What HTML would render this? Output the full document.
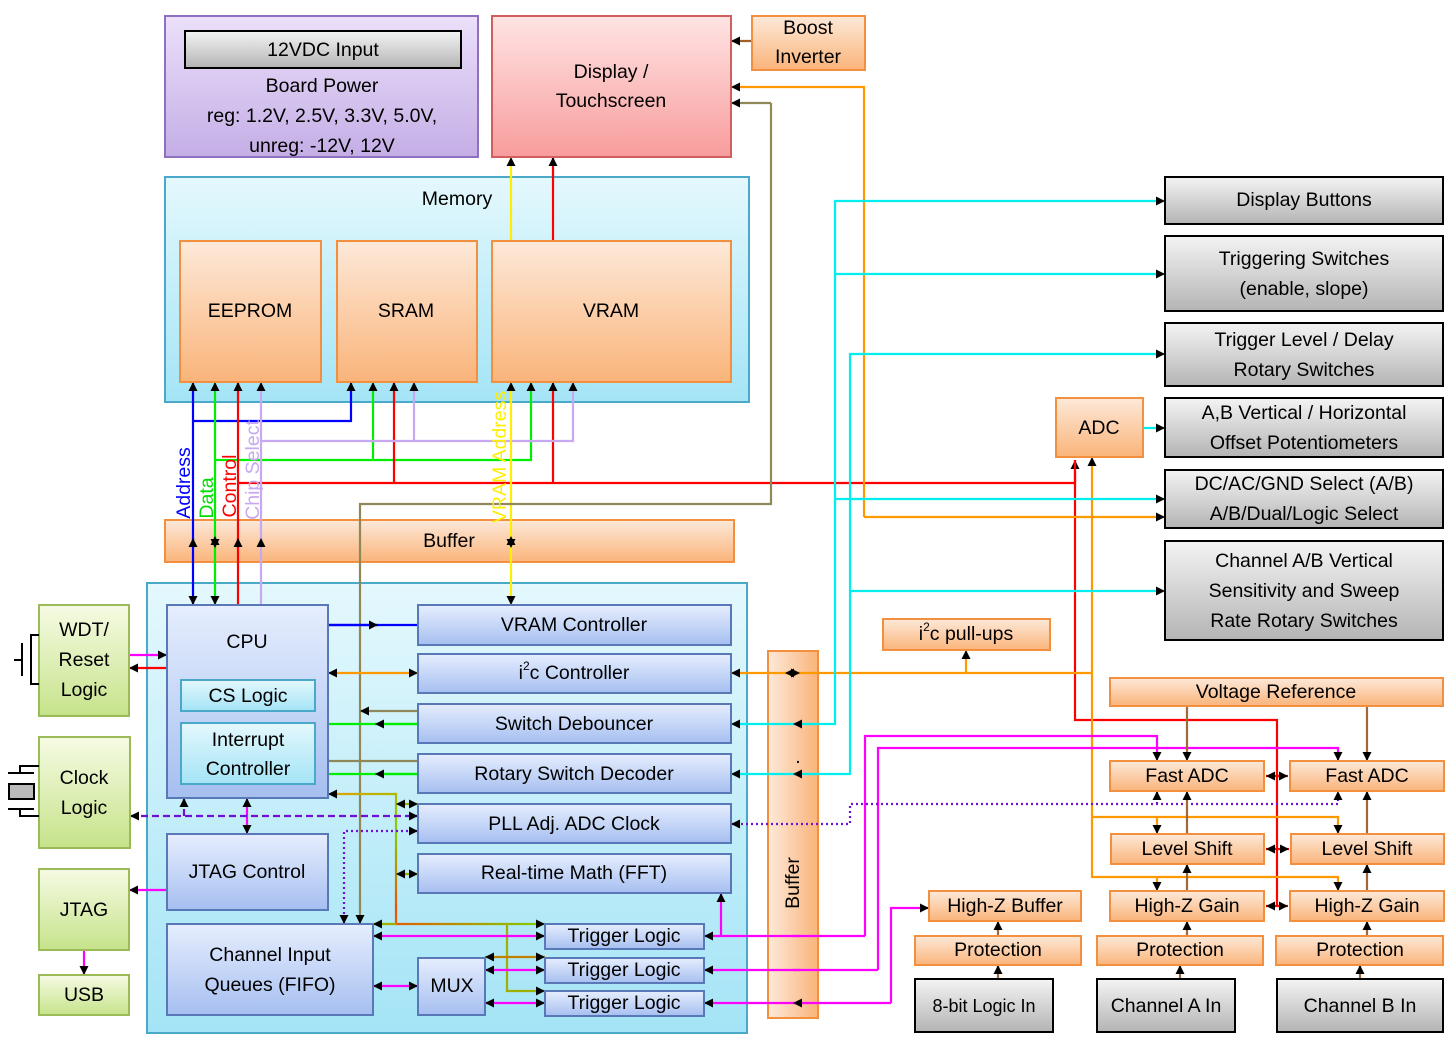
<!DOCTYPE html>
<html><head><meta charset="utf-8"><style>
html,body{margin:0;padding:0;background:#fff;}
svg{display:block;font-family:"Liberation Sans",sans-serif;}
text{font-size:19.5px;fill:#000;text-anchor:middle;dominant-baseline:central;}
</style></head><body>
<svg width="1452" height="1047" viewBox="0 0 1452 1047" xmlns="http://www.w3.org/2000/svg">
<defs>
<linearGradient id="gPur" x1="0" y1="0" x2="0" y2="1"><stop offset="0" stop-color="#ece0fa"/><stop offset="1" stop-color="#c4aee6"/></linearGradient>
<linearGradient id="gPink" x1="0" y1="0" x2="0" y2="1"><stop offset="0" stop-color="#ffe4e4"/><stop offset="1" stop-color="#f89c9c"/></linearGradient>
<linearGradient id="gOr" x1="0" y1="0" x2="0" y2="1"><stop offset="0" stop-color="#fde9d9"/><stop offset="1" stop-color="#fab47a"/></linearGradient>
<linearGradient id="gOrH" x1="0" y1="0" x2="1" y2="0"><stop offset="0" stop-color="#fde9d9"/><stop offset="1" stop-color="#fab47a"/></linearGradient>
<linearGradient id="gCy" x1="0" y1="0" x2="0" y2="1"><stop offset="0" stop-color="#e4f8fd"/><stop offset="1" stop-color="#a4e4f6"/></linearGradient>
<linearGradient id="gBl" x1="0" y1="0" x2="0" y2="1"><stop offset="0" stop-color="#e6eefe"/><stop offset="1" stop-color="#a6bff0"/></linearGradient>
<linearGradient id="gGr" x1="0" y1="0" x2="0" y2="1"><stop offset="0" stop-color="#f6fbe4"/><stop offset="1" stop-color="#c6e38a"/></linearGradient>
<linearGradient id="gGy" x1="0" y1="0" x2="0" y2="1"><stop offset="0" stop-color="#f4f4f4"/><stop offset="1" stop-color="#b4b4b4"/></linearGradient>
<linearGradient id="gMix" x1="0" y1="0" x2="1" y2="1"><stop offset="0" stop-color="#e0a000"/><stop offset="0.3" stop-color="#80d000"/><stop offset="0.6" stop-color="#f05000"/><stop offset="1" stop-color="#80d000"/></linearGradient>
<marker id="a" viewBox="0 0 10 10" refX="10" refY="5" markerWidth="9" markerHeight="9" markerUnits="userSpaceOnUse" orient="auto"><path d="M0,0 L10,5 L0,10z" fill="#000"/></marker>
<marker id="b" viewBox="0 0 10 10" refX="0" refY="5" markerWidth="9" markerHeight="9" markerUnits="userSpaceOnUse" orient="auto"><path d="M10,0 L0,5 L10,10z" fill="#000"/></marker>
</defs>

<rect x="165" y="177" width="584" height="225" fill="url(#gCy)" stroke="#4aa8c8" stroke-width="2"/>
<rect x="147" y="583" width="600" height="450" fill="url(#gCy)" stroke="#4aa8c8" stroke-width="2"/>
<g fill="url(#gOr)" stroke="#f39040" stroke-width="2">
<rect x="165" y="520" width="569" height="42"/>
<rect x="768" y="651" width="50" height="367" fill="url(#gOrH)"/>
</g>
<text x="449" y="541">Buffer</text>
<text x="793" y="883" transform="rotate(-90 793 883)">Buffer</text>
<text x="798" y="757" font-size="12">.</text>

<g fill="none" stroke-width="2.2">
<path d="M193,605 V382" stroke="#0000ff" marker-end="url(#a)" marker-start="url(#b)"/>
<path d="M193,421 H351 V382" stroke="#0000ff" marker-end="url(#a)"/>
<path d="M215,605 V382" stroke="#00ee00" marker-end="url(#a)" marker-start="url(#b)"/>
<path d="M215,460 H531 V382" stroke="#00ee00" marker-end="url(#a)"/>
<path d="M373,460 V382" stroke="#00ee00" marker-end="url(#a)"/>
<path d="M238,605 V382" stroke="#ff0000" marker-end="url(#a)"/>
<path d="M238,483 H1075 V460" stroke="#ff0000" marker-end="url(#a)"/>
<path d="M394,483 V382" stroke="#ff0000" marker-end="url(#a)"/>
<path d="M553,483 V382" stroke="#ff0000" marker-end="url(#a)"/>
<path d="M261,605 V382" stroke="#c8a8f0" marker-end="url(#a)"/>
<path d="M261,441 H573 V382" stroke="#c8a8f0" marker-end="url(#a)"/>
<path d="M414,441 V382" stroke="#c8a8f0" marker-end="url(#a)"/>
<path d="M511,605 V382" stroke="#ffee00" marker-end="url(#a)" marker-start="url(#b)"/>
<path d="M193,541 V535 M215,541 V535 M238,541 V535 M261,541 V535" stroke="none"/>
<path d="M511,241 V157" stroke="#ffee00" marker-end="url(#a)"/>
<path d="M553,241 V157" stroke="#ff0000" marker-end="url(#a)"/>
<path d="M1075,460 V720 H1277 V906" stroke="#ff0000"/>
<path d="M1266,776 H1288" stroke="#ff0000" marker-end="url(#a)" marker-start="url(#b)"/>
<path d="M1266,849 H1289" stroke="#ff0000" marker-end="url(#a)" marker-start="url(#b)"/>
<path d="M1266,906 H1288" stroke="#ff0000" marker-end="url(#a)" marker-start="url(#b)"/>
<path d="M771,103 H731" stroke="#908858" marker-end="url(#a)"/>
<path d="M771,103 V504 H360 V924" stroke="#908858" marker-end="url(#a)"/>
<path d="M360,711 H418" stroke="#908858" marker-start="url(#b)"/>
<path d="M418,761 H315" stroke="#908858" marker-end="url(#a)"/>
<path d="M752,41 H731" stroke="#a0602a" marker-end="url(#a)"/>
<path d="M864,517 V87 H731" stroke="#ff9900" marker-end="url(#a)"/>
<path d="M864,517 H1165" stroke="#ff9900" marker-end="url(#a)"/>
<path d="M328,673 H418" stroke="#ff9900" marker-end="url(#a)" marker-start="url(#b)"/>
<path d="M731,673 H1093" stroke="#ff9900" marker-start="url(#b)"/>
<path d="M785,673 H800" stroke="#ff9900" marker-end="url(#a)" marker-start="url(#b)"/>
<path d="M966,650 V673" stroke="#ff9900" marker-start="url(#b)"/>
<path d="M1092,457 V877 H1338 V891" stroke="#ff9900" marker-start="url(#b)" marker-end="url(#a)"/>
<path d="M1092,817 H1338 V834" stroke="#ff9900" marker-end="url(#a)"/>
<path d="M1157,817 V834" stroke="#ff9900" marker-end="url(#a)"/>
<path d="M1157,877 V891" stroke="#ff9900" marker-end="url(#a)"/>
<path d="M1165,201 H835 V724 H731" stroke="#00eeee" marker-start="url(#b)" marker-end="url(#a)"/>
<path d="M835,274 H1165" stroke="#00eeee" marker-end="url(#a)"/>
<path d="M835,499 H1165" stroke="#00eeee" marker-end="url(#a)"/>
<path d="M1165,354 H850 V774 H731" stroke="#00eeee" marker-start="url(#b)" marker-end="url(#a)"/>
<path d="M850,591 H1165" stroke="#00eeee" marker-end="url(#a)"/>
<path d="M1165,428 H1143" stroke="#00eeee" marker-start="url(#b)"/>
<path d="M800,724 H793" stroke="#00eeee" marker-end="url(#a)"/>
<path d="M800,774 H793" stroke="#00eeee" marker-end="url(#a)"/>
<path d="M328,625 H418" stroke="#0000ff"/>
<path d="M328,625 H378" stroke="#0000ff" marker-end="url(#a)"/>
<path d="M418,724 H328" stroke="#00ee00"/>
<path d="M418,774 H328" stroke="#00ee00"/>
<path d="M418,724 H375" stroke="#00ee00" marker-end="url(#a)"/>
<path d="M418,774 H375" stroke="#00ee00" marker-end="url(#a)"/>
<path d="M328,794 H396 V924 H545" stroke="url(#gMix)" marker-start="url(#b)" marker-end="url(#a)"/>
<path d="M396,804 H418" stroke="#a0b000" marker-end="url(#a)" marker-start="url(#b)"/>
<path d="M396,874 H418" stroke="#a0b000" marker-end="url(#a)" marker-start="url(#b)"/>
<path d="M373,924 H396" stroke="#a0b000" marker-start="url(#b)"/>
<path d="M507,924 V991 H545" stroke="#a0b000" marker-end="url(#a)"/>
<path d="M485,957 H545" stroke="#c08000" marker-start="url(#b)" marker-end="url(#a)"/>
<path d="M129,655 H167" stroke="#ff00ff" marker-end="url(#a)"/>
<path d="M167,668 H129" stroke="#ff0000" marker-end="url(#a)"/>
<path d="M247,798 V834" stroke="#ff00ff" marker-start="url(#b)" marker-end="url(#a)"/>
<path d="M167,890 H129" stroke="#ff00ff" marker-end="url(#a)"/>
<path d="M84,950 V975" stroke="#ff00ff" marker-end="url(#a)"/>
<path d="M545,936 H373" stroke="#ff00ff" marker-start="url(#b)" marker-end="url(#a)"/>
<path d="M545,970 H485" stroke="#ff00ff" marker-start="url(#b)" marker-end="url(#a)"/>
<path d="M545,1003 H485" stroke="#ff00ff" marker-start="url(#b)" marker-end="url(#a)"/>
<path d="M418,986 H373" stroke="#ff00ff" marker-start="url(#b)" marker-end="url(#a)"/>
<path d="M865,936 H704" stroke="#ff00ff" marker-end="url(#a)"/>
<path d="M721,936 V893" stroke="#ff00ff" marker-end="url(#a)"/>
<path d="M865,936 V736 H1157 V761" stroke="#ff00ff" marker-end="url(#a)"/>
<path d="M878,970 H704" stroke="#ff00ff" marker-end="url(#a)"/>
<path d="M878,970 V748 H1338 V761" stroke="#ff00ff" marker-end="url(#a)"/>
<path d="M891,1003 H704" stroke="#ff00ff" marker-end="url(#a)"/>
<path d="M891,1003 V908 H929" stroke="#ff00ff" marker-end="url(#a)"/>
<path d="M800,936 H793 M800,970 H793 M800,1003 H793" stroke="#ff00ff" marker-end="url(#a)"/>
<path d="M130,816 H418" stroke="#7010d0" stroke-dasharray="7,4" marker-end="url(#a)" marker-start="url(#b)"/>
<path d="M184,816 V798" stroke="#7010d0" stroke-dasharray="7,4" marker-end="url(#a)"/>
<path d="M418,831 H344 V924" stroke="#7010d0" stroke-dasharray="2,3" marker-start="url(#b)" marker-end="url(#a)"/>
<path d="M731,824 H850 V804 H1338 V791" stroke="#7010d0" stroke-dasharray="2,3" marker-start="url(#b)" marker-end="url(#a)"/>
<path d="M1157,804 V791" stroke="#7010d0" stroke-dasharray="2,3" marker-end="url(#a)"/>
<g stroke="#a0683a">
<path d="M1187,706 V761" marker-end="url(#a)"/><path d="M1367,706 V761" marker-end="url(#a)"/>
<path d="M1187,834 V791" marker-end="url(#a)"/><path d="M1367,834 V791" marker-end="url(#a)"/>
<path d="M1187,891 V864" marker-end="url(#a)"/><path d="M1367,891 V864" marker-end="url(#a)"/>
<path d="M1187,936 V921" marker-end="url(#a)"/><path d="M1367,936 V921" marker-end="url(#a)"/>
<path d="M1180,979 V965" marker-end="url(#a)"/><path d="M1360,979 V965" marker-end="url(#a)"/>
<path d="M998,936 V921" marker-end="url(#a)"/><path d="M998,979 V965" marker-end="url(#a)"/>
</g>
</g>
<!-- arrows on buffer -->
<g fill="none" stroke-width="2.2">
<path d="M193,548 V538" stroke="#0000ff" marker-end="url(#a)"/>
<path d="M215,548 V536" stroke="#00ee00" marker-end="url(#a)" marker-start="url(#b)"/>
<path d="M238,548 V538" stroke="#ff0000" marker-end="url(#a)"/>
<path d="M261,548 V538" stroke="#c8a8f0" marker-end="url(#a)"/>
<path d="M511,548 V536" stroke="#ffee00" marker-end="url(#a)" marker-start="url(#b)"/>
</g>

<rect x="165" y="16" width="313" height="141" fill="url(#gPur)" stroke="#8e6fc0" stroke-width="2"/>
<rect x="185" y="31" width="276" height="37" fill="url(#gGy)" stroke="#000" stroke-width="2"/>
<text x="323" y="50">12VDC Input</text>
<text x="322" y="86">Board Power</text>
<text x="322" y="116">reg: 1.2V, 2.5V, 3.3V, 5.0V,</text>
<text x="322" y="146">unreg: -12V, 12V</text>

<rect x="492" y="16" width="239" height="141" fill="url(#gPink)" stroke="#d06060" stroke-width="2"/>
<text x="611" y="72">Display /</text><text x="611" y="101">Touchscreen</text>
<g fill="url(#gOr)" stroke="#f39040" stroke-width="2">
<rect x="752" y="16" width="113" height="54"/>
<rect x="180" y="241" width="141" height="141"/>
<rect x="337" y="241" width="140" height="141"/>
<rect x="492" y="241" width="239" height="141"/>
<rect x="1056" y="398" width="87" height="59"/>
<rect x="883" y="619" width="167" height="31"/>
<rect x="1110" y="678" width="333" height="28"/>
<rect x="1110" y="761" width="154" height="30"/>
<rect x="1290" y="761" width="154" height="30"/>
<rect x="1111" y="834" width="153" height="30"/>
<rect x="1291" y="834" width="153" height="30"/>
<rect x="1110" y="891" width="154" height="30"/>
<rect x="1290" y="891" width="154" height="30"/>
<rect x="929" y="891" width="152" height="30"/>
<rect x="915" y="936" width="166" height="29"/>
<rect x="1097" y="936" width="166" height="29"/>
<rect x="1276" y="936" width="167" height="29"/>
</g>
<text x="808" y="28">Boost</text><text x="808" y="57">Inverter</text>
<text x="457" y="199">Memory</text>
<text x="250" y="311">EEPROM</text><text x="406" y="311">SRAM</text><text x="611" y="311">VRAM</text>
<text x="1099" y="428">ADC</text>
<text x="966" y="634">i<tspan font-size="12" dy="-7">2</tspan><tspan dy="7">c pull-ups</tspan></text>
<text x="1276" y="692">Voltage Reference</text>
<text x="1187" y="776">Fast ADC</text><text x="1367" y="776">Fast ADC</text>
<text x="1187" y="849">Level Shift</text><text x="1367" y="849">Level Shift</text>
<text x="1187" y="906">High-Z Gain</text><text x="1367" y="906">High-Z Gain</text>
<text x="1005" y="906">High-Z Buffer</text>
<text x="998" y="950">Protection</text><text x="1180" y="950">Protection</text><text x="1360" y="950">Protection</text>

<text x="184" y="483" transform="rotate(-90 184 483)" style="fill:#0000ff">Address</text>
<text x="207" y="498" transform="rotate(-90 207 498)" style="fill:#00dd00">Data</text>
<text x="230" y="486" transform="rotate(-90 230 486)" style="fill:#ff0000">Control</text>
<text x="253" y="470" transform="rotate(-90 253 470)" style="fill:#c8a8f0">Chip Select</text>
<text x="500" y="457" transform="rotate(-90 500 457)" style="fill:#ffee00">VRAM Address</text>

<g fill="url(#gBl)" stroke="#5878b8" stroke-width="2">
<rect x="167" y="605" width="161" height="193"/>
<rect x="418" y="605" width="313" height="40"/>
<rect x="418" y="654" width="313" height="39"/>
<rect x="418" y="704" width="313" height="39"/>
<rect x="418" y="754" width="313" height="39"/>
<rect x="418" y="804" width="313" height="39"/>
<rect x="418" y="854" width="313" height="39"/>
<rect x="167" y="834" width="161" height="76"/>
<rect x="167" y="924" width="206" height="91"/>
<rect x="418" y="958" width="67" height="57"/>
<rect x="545" y="924" width="159" height="25"/>
<rect x="545" y="958" width="159" height="25"/>
<rect x="545" y="991" width="159" height="25"/>
</g>
<g fill="url(#gCy)" stroke="#4aa8c8" stroke-width="2">
<rect x="181" y="680" width="134" height="31"/>
<rect x="181" y="723" width="134" height="61"/>
</g>
<text x="247" y="642">CPU</text>
<text x="248" y="696">CS Logic</text>
<text x="248" y="740">Interrupt</text><text x="248" y="769">Controller</text>
<text x="574" y="625">VRAM Controller</text>
<text x="574" y="673">i<tspan font-size="12" dy="-7">2</tspan><tspan dy="7">c Controller</tspan></text>
<text x="574" y="724">Switch Debouncer</text>
<text x="574" y="774">Rotary Switch Decoder</text>
<text x="574" y="824">PLL Adj. ADC Clock</text>
<text x="574" y="873">Real-time Math (FFT)</text>
<text x="247" y="872">JTAG Control</text>
<text x="270" y="955">Channel Input</text><text x="270" y="985">Queues (FIFO)</text>
<text x="452" y="986">MUX</text>
<text x="624" y="936">Trigger Logic</text>
<text x="624" y="970">Trigger Logic</text>
<text x="624" y="1003">Trigger Logic</text>

<g fill="url(#gGr)" stroke="#9bbb59" stroke-width="2">
<rect x="39" y="605" width="90" height="111"/>
<rect x="39" y="737" width="91" height="111"/>
<rect x="39" y="869" width="90" height="81"/>
<rect x="39" y="975" width="90" height="40"/>
</g>
<text x="84" y="630">WDT/</text><text x="84" y="660">Reset</text><text x="84" y="690">Logic</text>
<text x="84" y="778">Clock</text><text x="84" y="808">Logic</text>
<text x="84" y="910">JTAG</text><text x="84" y="995">USB</text>
<g fill="none" stroke="#000" stroke-width="2">
<path d="M39,635 H31 V684 H39"/><path d="M22,643 V676 M14,660 H22"/>
<path d="M39,766 H20 V773 M39,816 H20 V809 M8,773 H34 M8,809 H34"/>
</g>
<rect x="9" y="784" width="25" height="15" fill="#bbb" stroke="#000" stroke-width="2"/>

<g fill="url(#gGy)" stroke="#000" stroke-width="2">
<rect x="1165" y="177" width="278" height="47"/>
<rect x="1165" y="236" width="278" height="75"/>
<rect x="1165" y="323" width="278" height="63"/>
<rect x="1165" y="398" width="278" height="59"/>
<rect x="1165" y="470" width="278" height="58"/>
<rect x="1165" y="541" width="278" height="99"/>
<rect x="915" y="979" width="138" height="53"/>
<rect x="1097" y="979" width="138" height="53"/>
<rect x="1277" y="979" width="166" height="53"/>
</g>
<text x="1304" y="200">Display Buttons</text>
<text x="1304" y="259">Triggering Switches</text><text x="1304" y="289">(enable, slope)</text>
<text x="1304" y="340">Trigger Level / Delay</text><text x="1304" y="370">Rotary Switches</text>
<text x="1304" y="413">A,B Vertical / Horizontal</text><text x="1304" y="443">Offset Potentiometers</text>
<text x="1304" y="484">DC/AC/GND Select (A/B)</text><text x="1304" y="514">A/B/Dual/Logic Select</text>
<text x="1304" y="561">Channel A/B Vertical</text><text x="1304" y="591">Sensitivity and Sweep</text><text x="1304" y="621">Rate Rotary Switches</text>
<text x="984" y="1006" style="font-size:18px">8-bit Logic In</text>
<text x="1166" y="1006">Channel A In</text>
<text x="1360" y="1006">Channel B In</text>
</svg>
</body></html>
